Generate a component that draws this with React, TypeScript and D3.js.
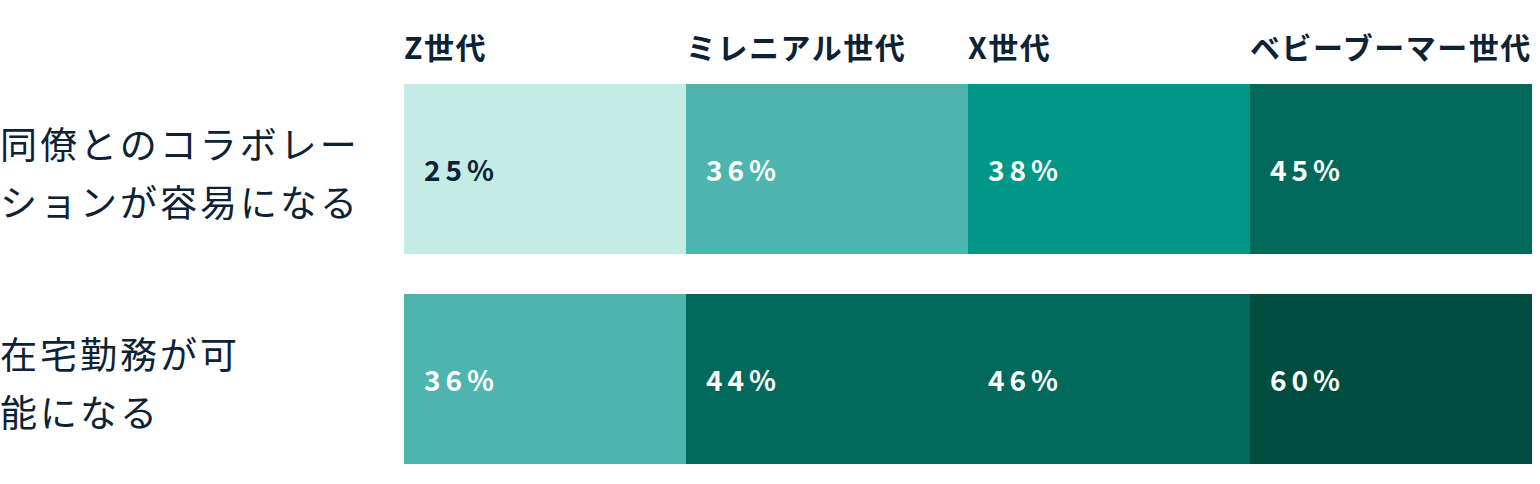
import React, { useRef, useEffect } from 'react';
import * as d3 from 'd3';

const generations = ['Z世代', 'ミレニアル世代', 'X世代', 'ベビーブーマー世代'];
const rowKeys = ['collaboration', 'remote'];
const rowLabels = [
  ['同僚とのコラボレー', 'ションが容易になる'],
  ['在宅勤務が可', '能になる'],
];
const collaborationValues = [25, 36, 38, 45];
const remoteValues = [36, 44, 46, 60];

const WIDTH = 1540;
const HEIGHT = 484;
const FONT = '"Noto Sans CJK JP", "Noto Sans", sans-serif';
const INK = '#0d2235';

const App: React.FC = () => {
  const svgRef = useRef<SVGSVGElement>(null);

  useEffect(() => {
    document.body.style.margin = '0';
    if (!svgRef.current) return;
    const svg = d3.select(svgRef.current);
    svg.selectAll('*').remove();

    const rows = [collaborationValues, remoteValues];

    const x = d3.scaleBand<string>()
      .domain(generations)
      .range([404, 1532])
      .padding(0);

    // two rows of 170px with a 40px gap
    const y = d3.scaleBand<string>()
      .domain(rowKeys)
      .range([84, 464])
      .paddingInner(40 / 210);

    const color = d3.scaleThreshold<number, string>()
      .domain([30, 37, 40, 50])
      .range(['#c4ebe6', '#4db5ad', '#009688', '#00695c', '#004d40']);

    // column headers
    svg.append('g')
      .selectAll('text')
      .data(generations)
      .join('text')
      .attr('x', d => x(d)!)
      .attr('y', 59)
      .attr('font-family', FONT)
      .attr('font-size', '30px')
      .attr('font-weight', 700)
      .attr('letter-spacing', '1.5px')
      .attr('fill', INK)
      .text(d => d);

    rowKeys.forEach((key, ri) => {
      const ry = y(key)!;
      const rh = y.bandwidth();

      // row label (two lines)
      const label = svg.append('text')
        .attr('font-family', FONT)
        .attr('font-size', '37px')
        .attr('font-weight', 400)
        .attr('letter-spacing', '3px')
        .attr('fill', INK);
      rowLabels[ri].forEach((line, li) => {
        label.append('tspan')
          .attr('x', 0)
          .attr('y', ry + rh / 2 + 3 + (li - 0.5) * 58)
          .attr('dominant-baseline', 'central')
          .text(line);
      });

      const cells = svg.append('g')
        .selectAll('g')
        .data(rows[ri].map((v, i) => ({ gen: generations[i], v })))
        .join('g');

      cells.append('rect')
        .attr('x', d => x(d.gen)!)
        .attr('y', ry)
        .attr('width', x.bandwidth())
        .attr('height', rh)
        .attr('fill', d => color(d.v));

      cells.append('text')
        .attr('x', d => x(d.gen)! + 20)
        .attr('y', ry + 97)
        .attr('font-family', FONT)
        .attr('font-size', '28px')
        .attr('font-weight', 700)
        .attr('letter-spacing', '5px')
        .attr('fill', d => (d.v < 30 ? INK : '#ffffff'))
        .text(d => `${d.v}%`);
    });
  }, []);

  return <svg ref={svgRef} width={WIDTH} height={HEIGHT} style={{ display: 'block' }} />;
};

export default App;
